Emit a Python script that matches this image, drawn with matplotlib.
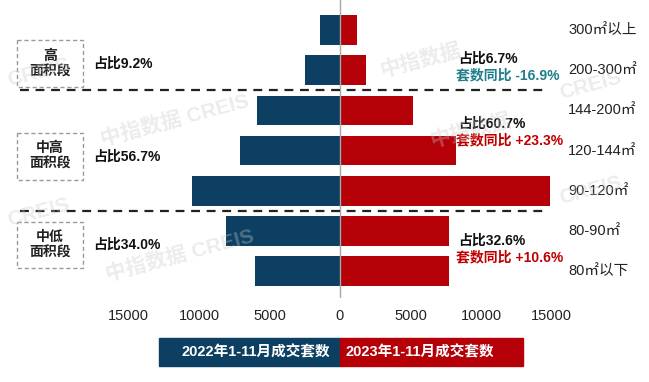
import matplotlib.pyplot as plt
from matplotlib.patches import Rectangle

plt.rcParams['font.family'] = ['Liberation Sans', 'Noto Sans CJK SC', 'DejaVu Sans']

categories = ['300㎡以上', '200-300㎡', '144-200㎡', '120-144㎡', '90-120㎡', '80-90㎡', '80㎡以下']
sales_2022 = [1400, 2450, 5900, 7100, 10500, 8100, 6000]
sales_2023 = [1200, 1850, 5200, 8200, 14900, 7700, 7700]

groups = ['高\n面积段', '中高\n面积段', '中低\n面积段']
group_rows = [0.83, 3.14, 5.35]
share_2022 = ['占比9.2%', '占比56.7%', '占比34.0%']
share_2023 = ['占比6.7%', '占比60.7%', '占比32.6%']
share_rows = [0.72, 2.34, 5.25]
yoy_2023 = ['套数同比 -16.9%', '套数同比 +23.3%', '套数同比 +10.6%']
yoy_colors = ['#1f7f8a', '#c00000', '#c00000']
ticks = [-15000, -10000, -5000, 0, 5000, 10000, 15000]

blue = '#0d3f62'
red = '#b50008'

W, H = 649, 382
fig = plt.figure(figsize=(W / 100, H / 100), dpi=100)
ax = fig.add_axes([0, (H - 298) / H, 1, 298 / H])

px = 1000 / 14.1  # data units per pixel
x0 = 340
ax.set_xlim(-x0 * px, (W - x0) * px)
ax.set_ylim(6.667, -0.746)

y = range(len(categories))
ax.barh(y, [-v for v in sales_2022], height=0.74, color=blue)
ax.barh(y, sales_2023, height=0.74, color=red)
ax.axvline(0, color='#a8a8a8', lw=1)

for s in ax.spines.values():
    s.set_visible(False)
ax.set_yticks([])
ax.set_xticks(ticks)
ax.set_xticklabels([str(abs(t)) for t in ticks], fontsize=10.5, color='#222222')
ax.tick_params(axis='x', length=0, pad=8)

# category labels on the right
for i, c in enumerate(categories):
    ax.text((568 - x0) * px, i, c, fontsize=10.5, va='center', ha='left', color='#222222')

# dashed separators
for yy in [1.5, 4.5]:
    ax.plot([(20 - x0) * px, (548 - x0) * px], [yy, yy], color='#222222', lw=1.6,
            ls=(0, (4, 3)))

# group boxes and labels
for g, gy in zip(groups, group_rows):
    ax.add_patch(Rectangle(((17 - x0) * px, gy - 0.58), 66 * px, 1.16, fill=False,
                           edgecolor='#9a9a9a', lw=1, ls=(0, (3, 2))))
    ax.text((50 - x0) * px, gy, g, ha='center', va='center', fontsize=10,
            fontweight='bold', color='#222222', linespacing=1.15)

for s, gy in zip(share_2022, group_rows):
    ax.text((93 - x0) * px, gy, s, ha='left', va='center', fontsize=10,
            fontweight='bold', color='#111111')

for s, t, c, gy in zip(share_2023, yoy_2023, yoy_colors, share_rows):
    ax.text((458 - x0) * px, gy, s, ha='left', va='center', fontsize=10,
            fontweight='bold', color='#111111')
    ax.text((456 - x0) * px, gy + 0.4, t, ha='left', va='center', fontsize=10,
            fontweight='bold', color=c)

# watermarks
for (wx, wy, t) in [(175, 120, '中指数据 CREIS'), (180, 255, '中指数据 CREIS'),
                    (420, 60, '中指数据'), (590, 85, 'CREIS'), (590, 190, 'CREIS'),
                    (38, 72, 'CREIS'), (38, 212, 'CREIS'), (470, 130, '中指数据')]:
    fig.text(wx / W, 1 - wy / H, t, color='#c8c8c8', alpha=0.35, fontsize=15, rotation=15,
             fontweight='bold', ha='center', va='center')

# legend boxes
fig.patches.append(Rectangle((159 / W, 1 - 366 / H), 181 / W, 28 / H, color=blue,
                             transform=fig.transFigure))
fig.patches.append(Rectangle((340 / W, 1 - 366 / H), 183 / W, 28 / H, color=red,
                             transform=fig.transFigure))
fig.text(256 / W, 1 - 352 / H, '2022年1-11月成交套数', color='white', fontsize=10.5,
         fontweight='bold', ha='center', va='center')
fig.text(420 / W, 1 - 352 / H, '2023年1-11月成交套数', color='white', fontsize=10.5,
         fontweight='bold', ha='center', va='center')

fig.savefig('out.png', dpi=100)
